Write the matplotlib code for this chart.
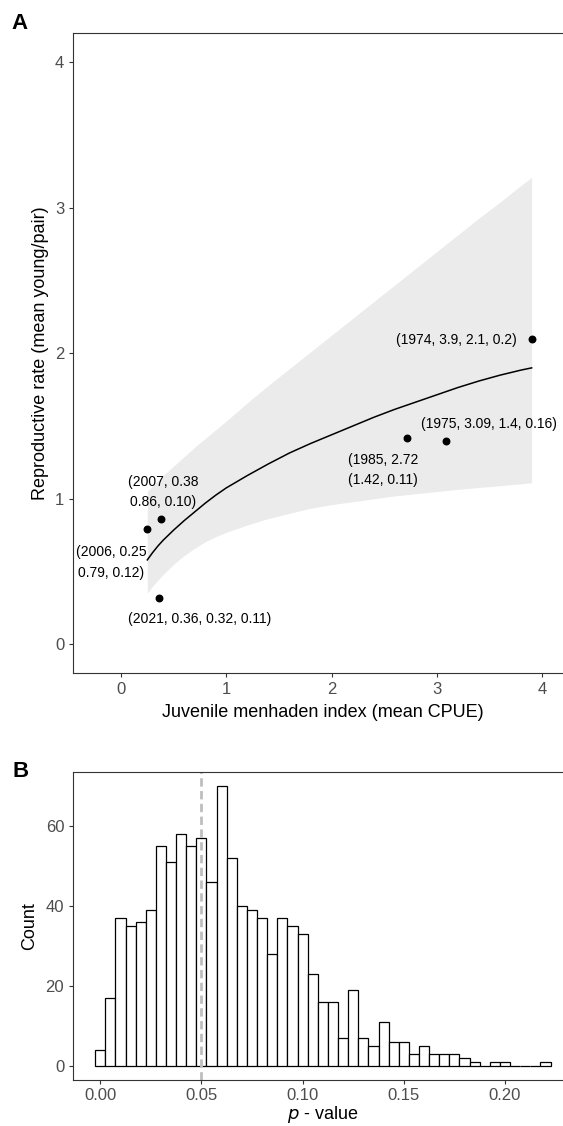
import matplotlib

matplotlib.use("Agg")
import matplotlib.pyplot as plt
import numpy as np

plt.rcParams["font.family"] = ["Liberation Sans", "DejaVu Sans"]

# panel A: observed points
years = [1974, 1975, 1985, 2006, 2007, 2021]
menhaden_index = [3.9, 3.09, 2.72, 0.25, 0.38, 0.36]
repro_rate = [2.1, 1.4, 1.42, 0.79, 0.86, 0.32]
point_labels = [
    "(1974, 3.9, 2.1, 0.2)",
    "(1975, 3.09, 1.4, 0.16)",
    "(1985, 2.72\n(1.42, 0.11)",
    "(2006, 0.25\n0.79, 0.12)",
    "(2007, 0.38\n0.86, 0.10)",
    "(2021, 0.36, 0.32, 0.11)",
]
label_x = [3.76, 3.49, 2.49, -0.093, 0.40, 0.747]
label_y = [2.09, 1.517, 1.196, 0.562, 1.046, 0.177]
label_ha = ["right", "center", "center", "center", "center", "center"]

# panel A: fitted curve and confidence band
curve_x = [0.25, 0.3, 0.35, 0.4, 0.5, 0.6, 0.7, 0.8, 0.9, 1.0, 1.2, 1.4, 1.6, 1.8, 2.0,
           2.2, 2.4, 2.6, 2.8, 3.0, 3.2, 3.4, 3.6, 3.8, 3.9]
fit_y = [0.58, 0.63, 0.675, 0.715, 0.785, 0.85, 0.91, 0.97, 1.025, 1.075, 1.16, 1.24, 1.315,
         1.38, 1.44, 1.50, 1.56, 1.615, 1.665, 1.715, 1.765, 1.81, 1.85, 1.885, 1.90]
band_lo = [0.35, 0.40, 0.44, 0.48, 0.55, 0.61, 0.66, 0.705, 0.74, 0.77, 0.82, 0.865, 0.90,
           0.935, 0.96, 0.98, 1.00, 1.02, 1.035, 1.05, 1.065, 1.078, 1.09, 1.103, 1.11]
band_hi = [1.05, 1.09, 1.125, 1.16, 1.225, 1.29, 1.355, 1.415, 1.475, 1.535, 1.66, 1.78, 1.895,
           2.01, 2.125, 2.24, 2.355, 2.47, 2.585, 2.70, 2.815, 2.93, 3.04, 3.155, 3.21]

# panel B: histogram of p-values (bin width 0.005)
bin_width = 0.005
bin_centers = np.round(np.arange(45) * bin_width, 3)
bin_counts = [4, 17, 37, 35, 36, 39, 55, 51, 58, 55, 57, 46, 70, 52, 40, 39, 37, 28, 37, 35,
              33, 23, 16, 16, 7, 19, 7, 5, 11, 6, 6, 3, 5, 3, 3, 3, 2, 1, 0, 1, 1, 0, 0, 0, 1]
p_cutoff = 0.05

TICK_COLOR = "#4D4D4D"


def style_axes(ax):
    for side in ("top", "bottom", "left", "right"):
        ax.spines[side].set_color("#333333")
        ax.spines[side].set_linewidth(0.8)
    ax.tick_params(direction="out", length=3, width=0.8, color="#333333",
                   labelsize=12, labelcolor=TICK_COLOR, pad=3)


fig = plt.figure(figsize=(5.63, 11.26), dpi=100)

ax1 = fig.add_axes([0.1291, 0.4020, 0.890, 0.5684])
ax1.fill_between(curve_x, band_lo, band_hi, color="#EBEBEB", linewidth=0)
ax1.plot(curve_x, fit_y, color="black", linewidth=1.1)
ax1.scatter(menhaden_index, repro_rate, s=22, color="black", zorder=3)
for text, x, y, ha in zip(point_labels, label_x, label_y, label_ha):
    ax1.text(x, y, text, ha=ha, va="center", fontsize=10, linespacing=1.55, color="black")
ax1.set_xlim(-0.459, 4.30)
ax1.set_ylim(-0.2, 4.2)
ax1.set_xticks([0, 1, 2, 3, 4])
ax1.set_yticks([0, 1, 2, 3, 4])
ax1.set_xlabel("Juvenile menhaden index (mean CPUE)", fontsize=13, labelpad=5)
ax1.set_ylabel("Reproductive rate (mean young/pair)", fontsize=13, labelpad=4)
style_axes(ax1)

ax2 = fig.add_axes([0.1288, 0.0411, 0.8904, 0.2733])
ax2.bar(bin_centers, bin_counts, width=bin_width, color="white", edgecolor="black", linewidth=0.9)
ax2.axvline(p_cutoff, color="#BEBEBE", linewidth=2.0, linestyle=(0, (3, 1.6)))
ax2.set_xlim(-0.01369, 0.234)
ax2.set_ylim(-3.5, 73.5)
ax2.set_xticks([0.0, 0.05, 0.10, 0.15, 0.20])
ax2.set_xticklabels(["0.00", "0.05", "0.10", "0.15", "0.20"])
ax2.set_yticks([0, 20, 40, 60])
ax2.set_xlabel("$\\it{p}$ - value", fontsize=13, labelpad=1)
ax2.set_ylabel("Count", fontsize=13, labelpad=5)
style_axes(ax2)

fig.text(11 / 563, 1 - 23.5 / 1126, "A", fontsize=16, fontweight="bold", ha="left", va="center")
fig.text(12.5 / 563, 1 - 771.5 / 1126, "B", fontsize=16, fontweight="bold", ha="left", va="center")

fig.savefig("out.png", dpi=100)
